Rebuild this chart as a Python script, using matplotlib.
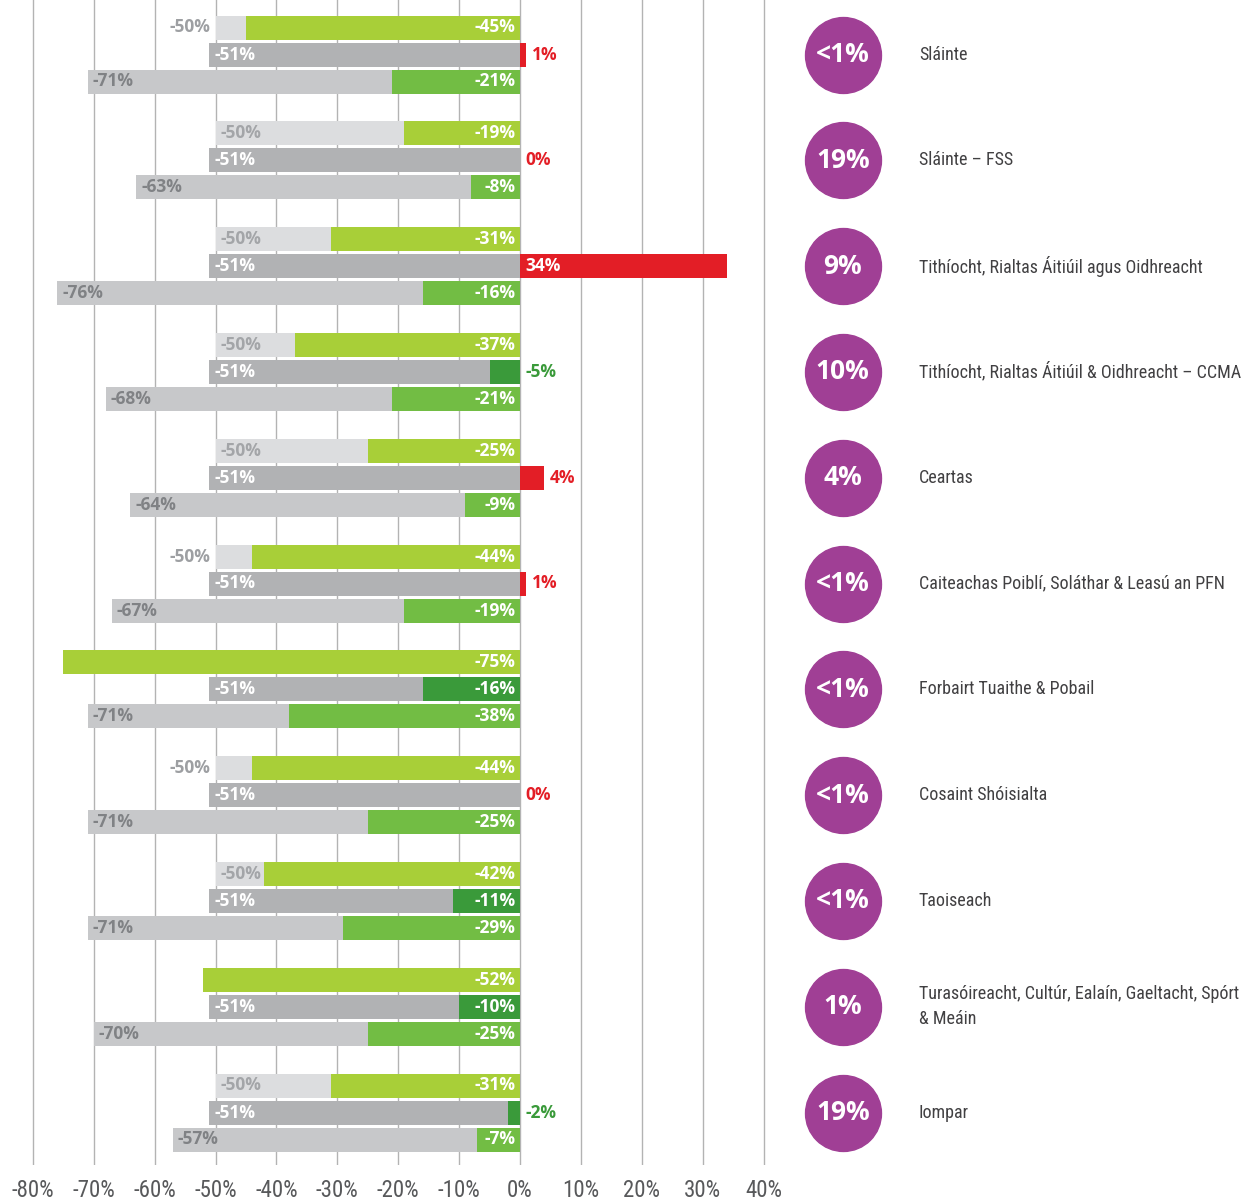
import matplotlib.pyplot as plt
import numpy as np

# departments (right hand labels) and the share shown in the purple circle
names = ['Sláinte', 'Sláinte – FSS', 'Tithíocht, Rialtas Áitiúil agus Oidhreacht',
         'Tithíocht, Rialtas Áitiúil & Oidhreacht – CCMA', 'Ceartas',
         'Caiteachas Poiblí, Soláthar & Leasú an PFN', 'Forbairt Tuaithe & Pobail',
         'Cosaint Shóisialta', 'Taoiseach',
         'Turasóireacht, Cultúr, Ealaín, Gaeltacht, Spórt\n& Meáin', 'Iompar']
shares = ['<1%', '19%', '9%', '10%', '4%', '<1%', '<1%', '<1%', '<1%', '1%', '19%']

# top row: target (-50%) and actual
top_base = [-50, -50, -50, -50, -50, -50, -50, -50, -50, -50, -50]
top_vals = [-45, -19, -31, -37, -25, -44, -75, -44, -42, -52, -31]
# middle row: target (-51%) and actual
mid_base = [-51, -51, -51, -51, -51, -51, -51, -51, -51, -51, -51]
mid_vals = [1, 0, 34, -5, 4, 1, -16, 0, -11, -10, -2]
# bottom row: target and actual
low_base = [-71, -63, -76, -68, -64, -67, -71, -71, -71, -70, -57]
low_vals = [-21, -8, -16, -21, -9, -19, -38, -25, -29, -25, -7]

ticks = list(range(-80, 50, 10))

NARROW = ['Liberation Sans Narrow', 'Roboto Condensed', 'DejaVu Sans']
BOLD = ['Open Sans', 'DejaVu Sans']

fig = plt.figure(figsize=(12.55, 12), dpi=100)
ax = fig.add_axes([0, 35 / 1200, 1, 1165 / 1200])
ax.set_xlim(-85.4, 120.7)
ax.set_ylim(1165, 0)

gy = np.arange(len(names)) * 105.8 + 27.5
h = 24

ax.barh(gy, top_base, height=h, color='#dcdddf')
ax.barh(gy, top_vals, height=h, color='#a8cf38')
ax.barh(gy + 27, mid_base, height=h, color='#b1b2b4')
ax.barh(gy + 27, mid_vals, height=h,
        color=['#e31e26' if v >= 0 else '#3a9a3a' for v in mid_vals])
ax.barh(gy + 54, low_base, height=h, color='#c7c8ca')
ax.barh(gy + 54, low_vals, height=h, color='#72bd44')

kw = dict(va='center', fontsize=12.5, fontweight='bold', family=BOLD)
for i in range(len(names)):
    y0, y1, y2 = gy[i], gy[i] + 27, gy[i] + 54
    # top row
    b, v = top_base[i], top_vals[i]
    ax.text(-0.7, y0, f'{v}%', ha='right', color='white', **kw)
    if v > b:
        if v - b >= 8:
            ax.text(b + 0.8, y0, f'{b}%', ha='left', color='#a3a5a8', **kw)
        else:
            ax.text(b - 0.8, y0, f'{b}%', ha='right', color='#9d9fa2', **kw)
    # middle row
    b, v = mid_base[i], mid_vals[i]
    ax.text(b + 0.8, y1, f'{b}%', ha='left', color='white', **kw)
    if v >= 10:
        ax.text(0.8, y1, f'{v}%', ha='left', color='white', **kw)
    elif v >= 0:
        ax.text(v + 0.9, y1, f'{v}%', ha='left', color='#e31e26', **kw)
    elif v > -8:
        ax.text(0.9, y1, f'{v}%', ha='left', color='#3a9a3a', **kw)
    else:
        ax.text(-0.7, y1, f'{v}%', ha='right', color='white', **kw)
    # bottom row
    b, v = low_base[i], low_vals[i]
    ax.text(b + 0.8, y2, f'{b}%', ha='left', color='#808285', **kw)
    ax.text(-0.7, y2, f'{v}%', ha='right', color='white', **kw)

# purple circles and department names
ax.scatter([53.0] * len(names), gy + 27, s=2990, color='#a03f95', zorder=3)
for i in range(len(names)):
    ax.text(53.0, gy[i] + 27, shares[i], ha='center', va='center', color='white',
            fontsize=19, fontweight='bold', family=BOLD, zorder=4)
    ax.text(65.5, gy[i] + 27, names[i], ha='left', va='center', color='#414042',
            fontsize=13, family=NARROW, linespacing=1.5)

ax.set_xticks(ticks, [f'{t}%' for t in ticks])
ax.set_yticks([])
ax.tick_params(axis='x', length=0, pad=10, labelsize=16.5, labelcolor='#58595b')
for lbl in ax.get_xticklabels():
    lbl.set_family(NARROW)
ax.grid(axis='x', color='#b3b3b3', lw=1)
ax.set_axisbelow(True)
for s in ax.spines.values():
    s.set_visible(False)

fig.savefig('out.png', dpi=100)
